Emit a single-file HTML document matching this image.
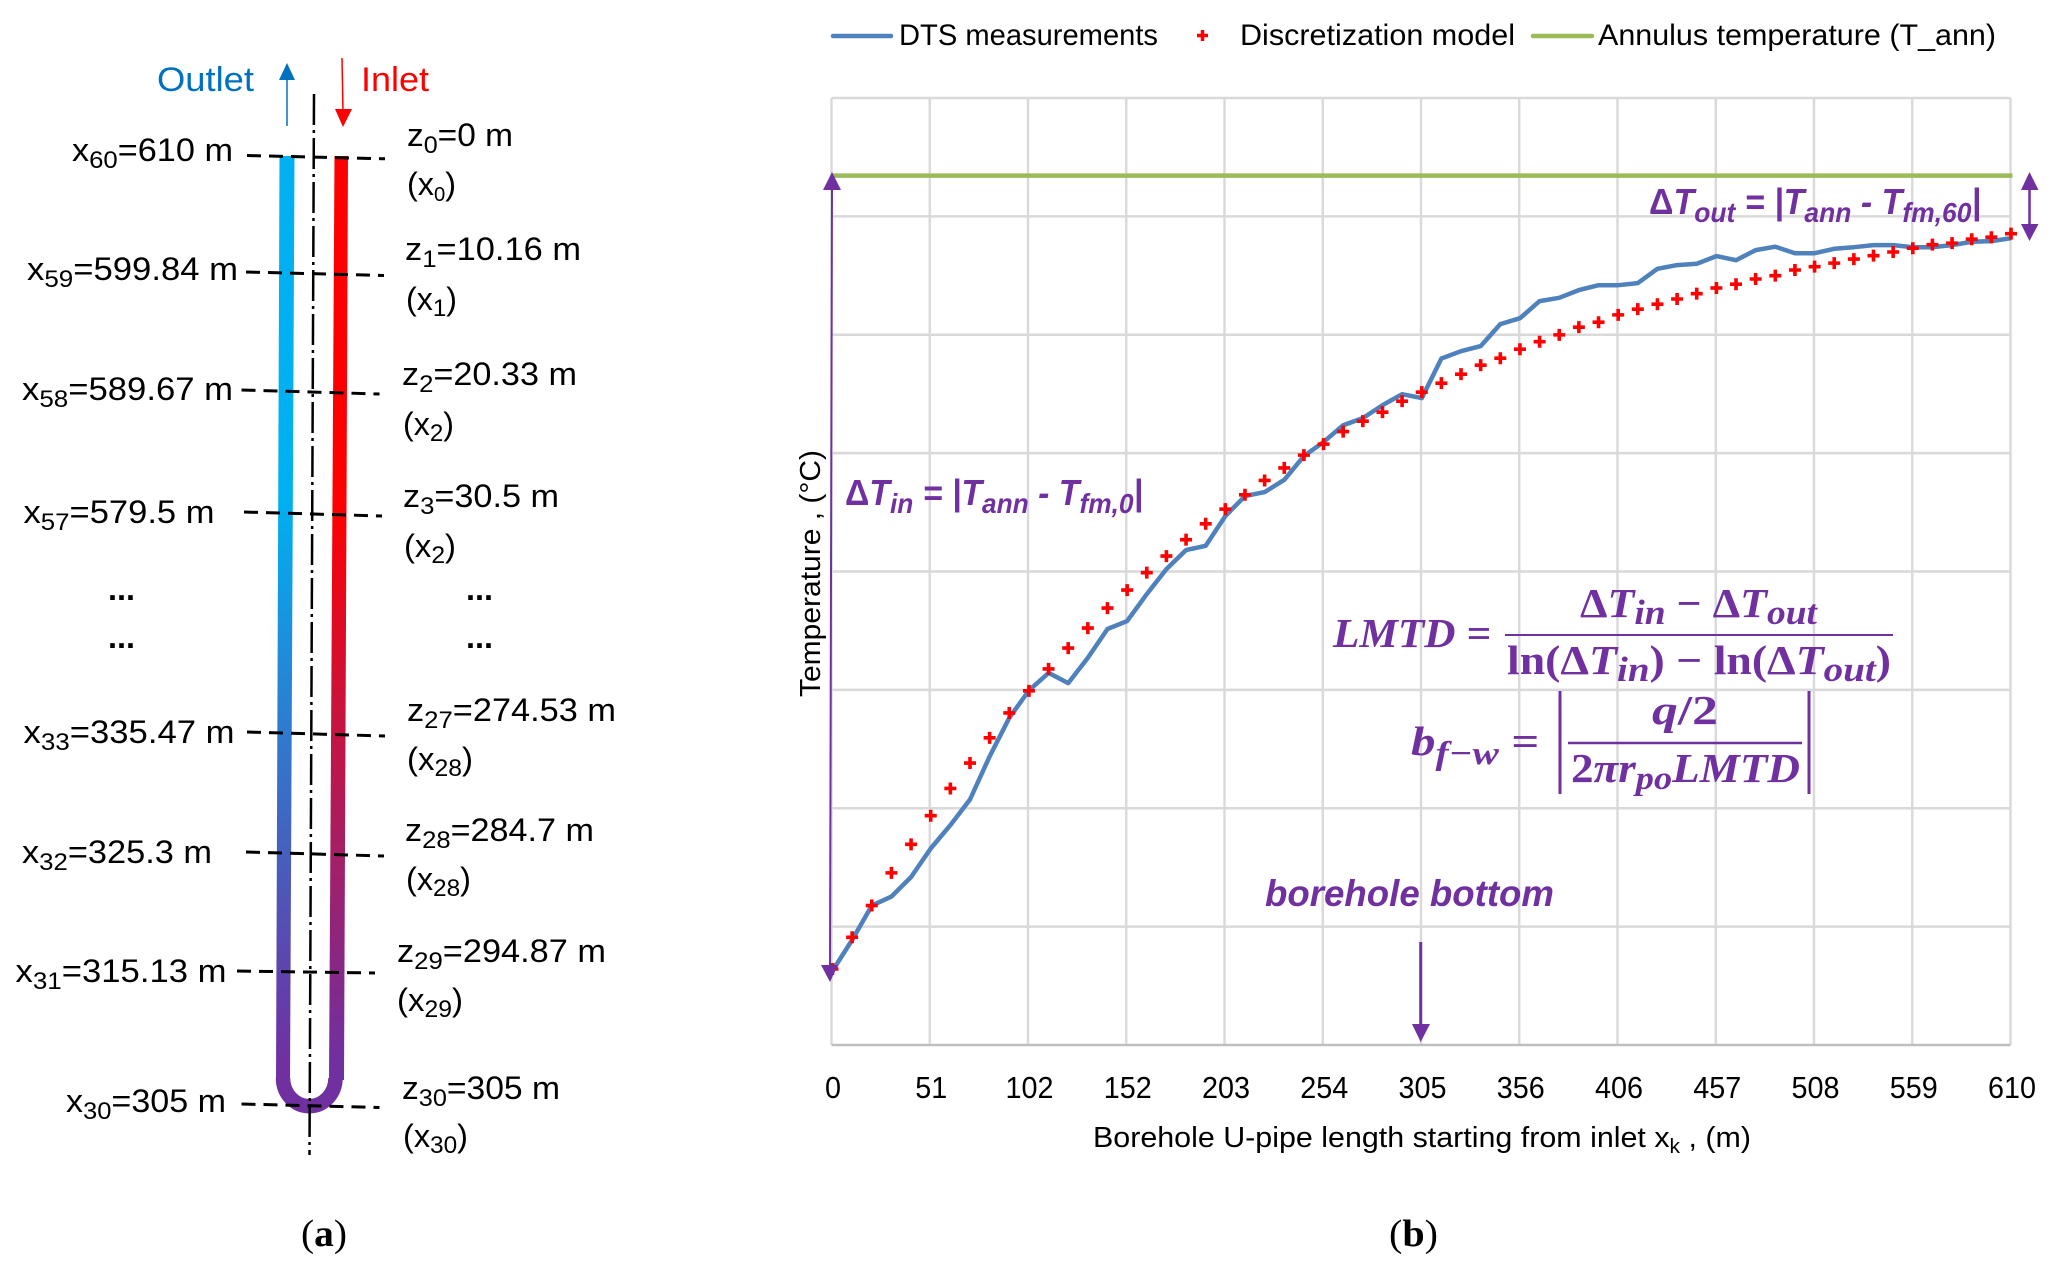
<!DOCTYPE html>
<html lang="en">
<head>
<meta charset="utf-8">
<title>Borehole U-pipe discretization and temperature profile</title>
<style>
html,body{margin:0;padding:0;background:#fff;}
svg{display:block;}
text{font-family:"Liberation Sans",sans-serif;fill:#000;}
.lb{font-size:32px;}
.pur{fill:#7030a0;font-weight:bold;font-style:italic;}
.mth{font-family:"Liberation Serif",serif;fill:#7030a0;font-weight:bold;font-style:italic;font-size:41px;}
.up{font-style:normal;}
.tick{font-size:31px;text-anchor:middle;}
.ser{font-family:"Liberation Serif",serif;font-size:38px;}
.dash{stroke:#000;stroke-width:3;stroke-dasharray:14 8;fill:none;}
</style>
</head>
<body>
<svg id="figure" xmlns="http://www.w3.org/2000/svg" width="2054" height="1271" viewBox="0 0 2054 1271">
<defs>
<linearGradient id="bluePipe" gradientUnits="userSpaceOnUse" x1="0" y1="500" x2="0" y2="1060"><stop offset="0" stop-color="#00b0f0"/><stop offset="1" stop-color="#7030a0"/></linearGradient>
<linearGradient id="redPipe" gradientUnits="userSpaceOnUse" x1="0" y1="500" x2="0" y2="1060"><stop offset="0" stop-color="#ff0000"/><stop offset="1" stop-color="#7030a0"/></linearGradient>
</defs>

<!-- Panel (a) -->
<g>
<text x="157" y="91" font-size="34" textLength="97" lengthAdjust="spacingAndGlyphs" style="fill:#0070c0">Outlet</text>
<text x="361" y="91" font-size="34" textLength="68" lengthAdjust="spacingAndGlyphs" style="fill:#ff0000">Inlet</text>
<g><line x1="287" y1="126" x2="287" y2="75" stroke="#0070c0" stroke-width="1.5"/><polygon points="287,63 279,80 295,80" fill="#0070c0"/></g>
<g><line x1="342" y1="58" x2="343" y2="112" stroke="#ff0000" stroke-width="1.5"/><polygon points="343,127 335,109 352,109" fill="#ff0000"/></g>

<polygon points="279.5,156 294.5,156 290,1082 276,1082" fill="url(#bluePipe)"/>
<polygon points="334.5,156 348,156 344,1080 329,1080" fill="url(#redPipe)"/>
<path d="M283,1078 A26,28 0 0 0 335.5,1078" fill="none" stroke="#7030a0" stroke-width="14.5"/>
<line x1="314" y1="94" x2="309.5" y2="1155" stroke="#000" stroke-width="2.5" stroke-dasharray="31 5 3 5"/>

<line class="dash" x1="247" y1="155.5" x2="385" y2="158.8"/>
<line class="dash" x1="246" y1="272" x2="384" y2="275.5"/>
<line class="dash" x1="241.5" y1="390" x2="379.5" y2="394"/>
<line class="dash" x1="244" y1="512" x2="382" y2="516"/>
<line class="dash" x1="247" y1="732" x2="385" y2="736"/>
<line class="dash" x1="246" y1="852" x2="384" y2="856"/>
<line class="dash" x1="237" y1="971" x2="375" y2="973"/>
<line class="dash" x1="241.5" y1="1104" x2="379.5" y2="1107.5"/>

<text class="lb" x="72" y="161" textLength="161" lengthAdjust="spacingAndGlyphs">x<tspan dy="7" font-size="24">60</tspan><tspan dy="-7">=610 m</tspan></text>
<text class="lb" x="27" y="280" textLength="211" lengthAdjust="spacingAndGlyphs">x<tspan dy="7" font-size="24">59</tspan><tspan dy="-7">=599.84 m</tspan></text>
<text class="lb" x="22" y="400" textLength="211" lengthAdjust="spacingAndGlyphs">x<tspan dy="7" font-size="24">58</tspan><tspan dy="-7">=589.67 m</tspan></text>
<text class="lb" x="23.5" y="523" textLength="191" lengthAdjust="spacingAndGlyphs">x<tspan dy="7" font-size="24">57</tspan><tspan dy="-7">=579.5 m</tspan></text>
<text class="lb" font-weight="bold" x="108" y="600" textLength="27" lengthAdjust="spacingAndGlyphs">...</text>
<text class="lb" font-weight="bold" x="108" y="648" textLength="27" lengthAdjust="spacingAndGlyphs">...</text>
<text class="lb" x="23.5" y="743" textLength="211" lengthAdjust="spacingAndGlyphs">x<tspan dy="7" font-size="24">33</tspan><tspan dy="-7">=335.47 m</tspan></text>
<text class="lb" x="22" y="863" textLength="190" lengthAdjust="spacingAndGlyphs">x<tspan dy="7" font-size="24">32</tspan><tspan dy="-7">=325.3 m</tspan></text>
<text class="lb" x="15.5" y="982" textLength="211" lengthAdjust="spacingAndGlyphs">x<tspan dy="7" font-size="24">31</tspan><tspan dy="-7">=315.13 m</tspan></text>
<text class="lb" x="66" y="1112" textLength="160" lengthAdjust="spacingAndGlyphs">x<tspan dy="7" font-size="24">30</tspan><tspan dy="-7">=305 m</tspan></text>

<text class="lb" x="407" y="146" textLength="106" lengthAdjust="spacingAndGlyphs">z<tspan dy="7" font-size="24">0</tspan><tspan dy="-7">=0 m</tspan></text>
<text class="lb" x="407" y="195" textLength="49" lengthAdjust="spacingAndGlyphs">(x<tspan dy="6" font-size="20">0</tspan><tspan dy="-6">)</tspan></text>
<text class="lb" x="405" y="260" textLength="176" lengthAdjust="spacingAndGlyphs">z<tspan dy="7" font-size="24">1</tspan><tspan dy="-7">=10.16 m</tspan></text>
<text class="lb" x="406" y="310" textLength="51" lengthAdjust="spacingAndGlyphs">(x<tspan dy="6" font-size="24">1</tspan><tspan dy="-6">)</tspan></text>
<text class="lb" x="402" y="385" textLength="175" lengthAdjust="spacingAndGlyphs">z<tspan dy="7" font-size="24">2</tspan><tspan dy="-7">=20.33 m</tspan></text>
<text class="lb" x="403" y="435" textLength="51" lengthAdjust="spacingAndGlyphs">(x<tspan dy="6" font-size="24">2</tspan><tspan dy="-6">)</tspan></text>
<text class="lb" x="403" y="507" textLength="156" lengthAdjust="spacingAndGlyphs">z<tspan dy="7" font-size="24">3</tspan><tspan dy="-7">=30.5 m</tspan></text>
<text class="lb" x="404" y="557" textLength="52" lengthAdjust="spacingAndGlyphs">(x<tspan dy="6" font-size="24">2</tspan><tspan dy="-6">)</tspan></text>
<text class="lb" font-weight="bold" x="466" y="600" textLength="27" lengthAdjust="spacingAndGlyphs">...</text>
<text class="lb" font-weight="bold" x="466" y="648" textLength="27" lengthAdjust="spacingAndGlyphs">...</text>
<text class="lb" x="407" y="721" textLength="209" lengthAdjust="spacingAndGlyphs">z<tspan dy="7" font-size="24">27</tspan><tspan dy="-7">=274.53 m</tspan></text>
<text class="lb" x="407" y="770" textLength="66" lengthAdjust="spacingAndGlyphs">(x<tspan dy="6" font-size="24">28</tspan><tspan dy="-6">)</tspan></text>
<text class="lb" x="405" y="841" textLength="189" lengthAdjust="spacingAndGlyphs">z<tspan dy="7" font-size="24">28</tspan><tspan dy="-7">=284.7 m</tspan></text>
<text class="lb" x="406" y="890" textLength="65" lengthAdjust="spacingAndGlyphs">(x<tspan dy="6" font-size="24">28</tspan><tspan dy="-6">)</tspan></text>
<text class="lb" x="397" y="962" textLength="209" lengthAdjust="spacingAndGlyphs">z<tspan dy="7" font-size="24">29</tspan><tspan dy="-7">=294.87 m</tspan></text>
<text class="lb" x="397" y="1011" textLength="66" lengthAdjust="spacingAndGlyphs">(x<tspan dy="6" font-size="24">29</tspan><tspan dy="-6">)</tspan></text>
<text class="lb" x="402" y="1099" textLength="158" lengthAdjust="spacingAndGlyphs">z<tspan dy="7" font-size="24">30</tspan><tspan dy="-7">=305 m</tspan></text>
<text class="lb" x="403" y="1147" textLength="65" lengthAdjust="spacingAndGlyphs">(x<tspan dy="6" font-size="24">30</tspan><tspan dy="-6">)</tspan></text>
<text class="ser" x="301" y="1246" textLength="46" lengthAdjust="spacingAndGlyphs">(<tspan font-weight="bold">a</tspan>)</text>
</g>

<!-- Panel (b) legend -->
<g>
<g>
<line x1="833" y1="36" x2="891" y2="36" stroke="#4f81bd" stroke-width="4.5" stroke-linecap="round"/>
<text x="899" y="45" font-size="30" textLength="259" lengthAdjust="spacingAndGlyphs">DTS measurements</text>
</g>
<g>
<path d="M1197,35.5H1208M1202.5,30V41" stroke="#ff0000" stroke-width="3.5" fill="none"/>
<text x="1240" y="45" font-size="30" textLength="275" lengthAdjust="spacingAndGlyphs">Discretization model</text>
</g>
<g>
<line x1="1533" y1="36" x2="1592" y2="36" stroke="#9bbb59" stroke-width="4.5" stroke-linecap="round"/>
<text x="1598" y="45" font-size="30" textLength="398" lengthAdjust="spacingAndGlyphs">Annulus temperature (T_ann)</text>
</g>
</g>

<g id="chart"></g>

<text x="1093" y="1147" font-size="29" textLength="658" lengthAdjust="spacingAndGlyphs">Borehole U-pipe length starting from inlet x<tspan dy="6" font-size="20">k</tspan><tspan dy="-6"> , (m)</tspan></text>
<text transform="translate(820,697) rotate(-90)" font-size="29" textLength="247" lengthAdjust="spacingAndGlyphs">Temperature , (°C)</text>

<!-- Annotations -->
<g>
<line x1="832" y1="185" x2="830" y2="970" stroke="#7030a0" stroke-width="2"/>
<polygon points="832,172 823,190 841,190" fill="#7030a0"/>
<polygon points="830,982 821,965 838,965" fill="#7030a0"/>
</g>
<g>
<line x1="2029.5" y1="185" x2="2029.5" y2="228" stroke="#7030a0" stroke-width="2.5"/>
<polygon points="2029.5,172 2021,190 2038.5,190" fill="#7030a0"/>
<polygon points="2029.5,241 2021,224 2038.5,224" fill="#7030a0"/>
</g>
<g>
<line x1="1420.7" y1="942" x2="1420.7" y2="1028" stroke="#7030a0" stroke-width="3"/>
<polygon points="1420.7,1042 1412,1024 1430,1024" fill="#7030a0"/>
</g>

<text class="pur" x="845" y="505" font-size="36" textLength="298" lengthAdjust="spacingAndGlyphs"><tspan class="up">Δ</tspan>T<tspan dy="8" font-size="28">in</tspan><tspan dy="-8"> = |T</tspan><tspan dy="8" font-size="28">ann</tspan><tspan dy="-8"> - T</tspan><tspan dy="8" font-size="28">fm,0</tspan><tspan dy="-8">|</tspan></text>
<text class="pur" x="1649" y="214" font-size="36" textLength="332" lengthAdjust="spacingAndGlyphs"><tspan class="up">Δ</tspan>T<tspan dy="8" font-size="28">out</tspan><tspan dy="-8"> = |T</tspan><tspan dy="8" font-size="28">ann</tspan><tspan dy="-8"> - T</tspan><tspan dy="8" font-size="28">fm,60</tspan><tspan dy="-8">|</tspan></text>

<g>
<text class="mth" x="1333" y="647" textLength="158" lengthAdjust="spacingAndGlyphs">LMTD =</text>
<text class="mth" x="1580" y="617" textLength="237" lengthAdjust="spacingAndGlyphs"><tspan class="up">Δ</tspan>T<tspan dy="7" font-size="35">in</tspan><tspan dy="-7" class="up"> − Δ</tspan>T<tspan dy="7" font-size="35">out</tspan></text>
<line x1="1505" y1="635" x2="1893" y2="635" stroke="#7030a0" stroke-width="2"/>
<text class="mth" x="1507" y="674" textLength="384" lengthAdjust="spacingAndGlyphs"><tspan class="up">ln(Δ</tspan>T<tspan dy="7" font-size="35">in</tspan><tspan dy="-7" class="up">) − ln(Δ</tspan>T<tspan dy="7" font-size="35">out</tspan><tspan dy="-7" class="up">)</tspan></text>
</g>
<g>
<text class="mth" x="1411" y="755" textLength="128" lengthAdjust="spacingAndGlyphs">b<tspan dy="9" font-size="33">f−w</tspan><tspan dy="-9"> =</tspan></text>
<line x1="1560" y1="691" x2="1560" y2="794" stroke="#7030a0" stroke-width="3"/>
<line x1="1809" y1="691" x2="1809" y2="794" stroke="#7030a0" stroke-width="3"/>
<text class="mth" x="1652" y="724" textLength="66" lengthAdjust="spacingAndGlyphs">q<tspan class="up">/2</tspan></text>
<line x1="1568" y1="743" x2="1802" y2="743" stroke="#7030a0" stroke-width="2.5"/>
<text class="mth" x="1571" y="782" textLength="229" lengthAdjust="spacingAndGlyphs"><tspan class="up">2</tspan>πr<tspan dy="7" font-size="33">po</tspan><tspan dy="-7">LMTD</tspan></text>
</g>
<text class="pur" x="1265" y="906" font-size="37" textLength="289" lengthAdjust="spacingAndGlyphs">borehole bottom</text>
<text class="ser" x="1389" y="1246" textLength="49" lengthAdjust="spacingAndGlyphs">(<tspan font-weight="bold">b</tspan>)</text>
</svg>

<script>
var distances = [0,10.17,20.33,30.5,40.67,50.83,61,71.17,81.33,91.5,101.67,111.83,122,132.17,142.33,152.5,162.67,172.83,183,193.17,203.33,213.5,223.67,233.83,244,254.17,264.33,274.5,284.67,294.83,305,315.17,325.33,335.5,345.67,355.83,366,376.17,386.33,396.5,406.67,416.83,427,437.17,447.33,457.5,467.67,477.83,488,498.17,508.33,518.5,528.67,538.83,549,559.17,569.33,579.5,589.67,599.83,610];
var dtsValues = [0.627,0.887,1.178,1.254,1.419,1.660,1.858,2.074,2.437,2.764,2.995,3.143,3.057,3.270,3.514,3.581,3.809,4.020,4.181,4.217,4.468,4.637,4.671,4.775,4.975,5.093,5.236,5.296,5.405,5.498,5.465,5.799,5.861,5.904,6.090,6.140,6.284,6.312,6.377,6.419,6.419,6.436,6.557,6.588,6.599,6.664,6.630,6.715,6.744,6.689,6.689,6.726,6.740,6.757,6.757,6.740,6.740,6.757,6.785,6.791,6.816];
var modelValues = [0.642,0.910,1.178,1.454,1.695,1.937,2.167,2.382,2.595,2.805,2.992,3.177,3.353,3.522,3.691,3.843,3.990,4.130,4.269,4.403,4.527,4.648,4.769,4.875,4.983,5.076,5.182,5.270,5.346,5.439,5.515,5.591,5.667,5.743,5.802,5.878,5.941,5.999,6.064,6.106,6.168,6.216,6.258,6.302,6.347,6.395,6.427,6.471,6.499,6.547,6.575,6.605,6.639,6.668,6.699,6.731,6.761,6.774,6.807,6.824,6.854];
var annulusValue = [7.344];
var xTickValues = [0,50.83,101.67,152.5,203.33,254.17,305,355.83,406.67,457.5,508.33,559.17,610];
var xTickLabels = ["0","51","102","152","203","254","305","356","406","457","508","559","610"];
var yGridValues = [0,1,2,3,4,5,6,7,8];

var NS = 'http://www.w3.org/2000/svg';
var chart = document.getElementById('chart');
function xGrid(d){ return 831.5 + d / 610 * 1179; }
function xScale(d){ return 832.5 + d / 610 * 1178.5; }
function yScale(v){ return 1045 - v / 8 * 947; }
function make(tag, parent){ var el = document.createElementNS(NS, tag); parent.appendChild(el); return el; }

xTickValues.forEach(function(d, i){
  var g = make('line', chart);
  
  
  g.setAttribute('x1', xGrid(d)); g.setAttribute('x2', xGrid(d));
  g.setAttribute('y1', yScale(8)); g.setAttribute('y2', yScale(0));
  g.setAttribute('stroke', '#d9d9d9'); g.setAttribute('stroke-width', '2.4');
  var t = make('text', chart);
  
  
  t.setAttribute('class', 'tick');
  t.setAttribute('x', xGrid(d) + 1.5); t.setAttribute('y', 1098);
  t.setAttribute('textLength', xTickLabels[i].length * 16);
  t.setAttribute('lengthAdjust', 'spacingAndGlyphs');
  t.textContent = xTickLabels[i];
});
yGridValues.forEach(function(v){
  var g = make('line', chart);
  
  
  g.setAttribute('x1', xGrid(0)); g.setAttribute('x2', xGrid(610));
  g.setAttribute('y1', yScale(v)); g.setAttribute('y2', yScale(v));
  g.setAttribute('stroke', v === 0 ? '#bfbfbf' : '#d9d9d9'); g.setAttribute('stroke-width', '2.4');
});

var ann = make('line', chart);


ann.setAttribute('x1', xGrid(0)); ann.setAttribute('x2', xGrid(610) + 2);
ann.setAttribute('y1', yScale(annulusValue[0])); ann.setAttribute('y2', yScale(annulusValue[0]));
ann.setAttribute('stroke', '#9bbb59'); ann.setAttribute('stroke-width', '4.5');

var dts = make('polyline', chart);


dts.setAttribute('points', dtsValues.map(function(v, i){ return xScale(distances[i]).toFixed(1) + ',' + yScale(v).toFixed(1); }).join(' '));
dts.setAttribute('fill', 'none'); dts.setAttribute('stroke', '#4f81bd'); dts.setAttribute('stroke-width', '4.5'); dts.setAttribute('stroke-linejoin', 'round');

modelValues.forEach(function(v, i){
  var x = xScale(distances[i]), y = yScale(v);
  var p = make('path', chart);
  
  
  p.setAttribute('d', 'M' + (x - 6) + ',' + y + 'H' + (x + 6) + 'M' + x + ',' + (y - 6) + 'V' + (y + 6));
  p.setAttribute('stroke', '#ff0000'); p.setAttribute('stroke-width', '3.6'); p.setAttribute('fill', 'none');
});
</script>
</body>
</html>
